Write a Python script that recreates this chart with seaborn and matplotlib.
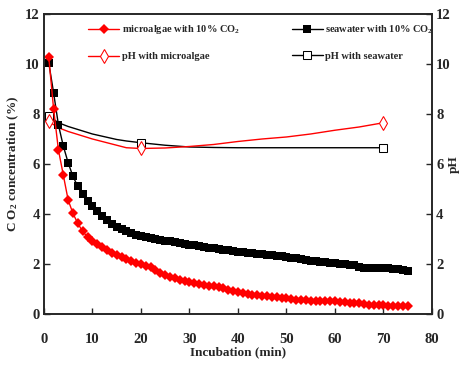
import numpy as np
import pandas as pd
import matplotlib
matplotlib.use("Agg")
import matplotlib.pyplot as plt
import seaborn as sns

sns.set_style("ticks")
plt.rcParams['font.family'] = ['Liberation Serif', 'DejaVu Serif']
plt.rcParams['font.weight'] = 'bold'
plt.rcParams['mathtext.fontset'] = 'custom'
plt.rcParams['mathtext.rm'] = 'Liberation Serif:bold'
plt.rcParams['mathtext.it'] = 'Liberation Serif:bold'
plt.rcParams['mathtext.bf'] = 'Liberation Serif:bold'

time_min = list(range(1, 76))
co2_microalgae = [10.28, 8.2, 6.56, 5.56, 4.56, 4.02, 3.62, 3.3, 3.08, 2.92,
                  2.78, 2.66, 2.55, 2.45, 2.36, 2.28, 2.2, 2.12, 2.05, 1.98,
                  1.92, 1.86, 1.75, 1.65, 1.55, 1.48, 1.42, 1.37, 1.32, 1.28,
                  1.24, 1.2, 1.16, 1.12, 1.1, 1.08, 1.02, 0.95, 0.9, 0.86,
                  0.83, 0.8, 0.76, 0.74, 0.72, 0.7, 0.68, 0.66, 0.65, 0.63,
                  0.6, 0.57, 0.55, 0.54, 0.53, 0.52, 0.51, 0.5, 0.5, 0.5,
                  0.48, 0.46, 0.45, 0.44, 0.43, 0.38, 0.36, 0.35, 0.35, 0.34,
                  0.33, 0.33, 0.32, 0.32, 0.32]
co2_seawater = [10.05, 8.85, 7.56, 6.72, 6.05, 5.5, 5.1, 4.8, 4.5, 4.3,
                4.1, 3.9, 3.75, 3.6, 3.48, 3.38, 3.3, 3.22, 3.15, 3.1,
                3.06, 3.02, 2.99, 2.96, 2.93, 2.9, 2.86, 2.83, 2.8, 2.77,
                2.74, 2.71, 2.68, 2.65, 2.62, 2.6, 2.57, 2.54, 2.51, 2.48,
                2.46, 2.44, 2.42, 2.4, 2.38, 2.36, 2.34, 2.32, 2.3, 2.28,
                2.25, 2.22, 2.19, 2.16, 2.13, 2.11, 2.09, 2.07, 2.05, 2.03,
                2.01, 1.99, 1.97, 1.94, 1.88, 1.85, 1.84, 1.84, 1.83, 1.83,
                1.82, 1.8, 1.78, 1.77, 1.72]

ph_time = [1, 3, 5, 10, 15, 17, 20, 25, 30, 35, 40, 45, 50, 55, 60, 65, 70]
ph_microalgae = [7.7, 7.45, 7.3, 7.0, 6.75, 6.65, 6.62, 6.64, 6.7, 6.78, 6.9,
                 7.0, 7.08, 7.2, 7.35, 7.48, 7.65]
ph_seawater = [7.92, 7.65, 7.5, 7.2, 6.98, 6.92, 6.85, 6.75, 6.68, 6.66, 6.65,
               6.65, 6.65, 6.65, 6.65, 6.65, 6.65]
ph_marker_idx = [0, 6, 16]

fig = plt.figure(figsize=(4.62, 3.70), dpi=100)
ax = fig.add_axes([0.095, 0.1514, 0.840, 0.8108])
ax2 = ax.twinx()

df = pd.DataFrame({"t": time_min, "micro": co2_microalgae, "sea": co2_seawater})
dph = pd.DataFrame({"t": ph_time, "micro": ph_microalgae, "sea": ph_seawater})

sns.lineplot(data=dph, x="t", y="sea", ax=ax, color="black", lw=1.0,
             marker="s", markersize=6, markerfacecolor="white", markeredgecolor="black",
             markevery=ph_marker_idx, label="pH with seawater", zorder=2)
sns.lineplot(data=dph, x="t", y="micro", ax=ax, color="red", lw=1.0,
             marker="d", markersize=7, markerfacecolor="white", markeredgecolor="red",
             markevery=ph_marker_idx, label="pH with microalgae", zorder=2)
sns.lineplot(data=df, x="t", y="sea", ax=ax, color="black", lw=1.0,
             marker="s", markersize=6, markeredgewidth=0, label="seawater with 10% CO$_2$", zorder=3)
sns.lineplot(data=df, x="t", y="micro", ax=ax, color="red", lw=1.0,
             marker="D", markersize=5, markeredgewidth=0, label="microalgae with 10% CO$_2$", zorder=4)

ax.set_xlim(0, 80)
ax.set_ylim(0, 12)
ax2.set_ylim(0, 12)
ax.set_xticks(range(0, 81, 10))
ax.set_yticks(range(0, 13, 2))
ax2.set_yticks(range(0, 13, 2))
for a in (ax, ax2):
    a.tick_params(direction="in", length=4, width=1, labelsize=10.5, pad=3)
    for s in a.spines.values():
        s.set_linewidth(1.2)
        s.set_visible(True)
ax.tick_params(axis="x", pad=14)
ax.set_xlabel("Incubation (min)", fontsize=9.5, fontweight="bold", labelpad=0)
ax.set_ylabel("C O$_2$ concentration (%)", fontsize=9.5, fontweight="bold", labelpad=3)
ax2.set_ylabel("pH", fontsize=9.5, fontweight="bold")
ax2.yaxis.set_label_coords(1.04, 0.5)

h, l = ax.get_legend_handles_labels()
order = [l.index("microalgae with 10% CO$_2$"), l.index("pH with microalgae"),
         l.index("seawater with 10% CO$_2$"), l.index("pH with seawater")]
ax.legend([h[i] for i in order], [l[i] for i in order], ncol=2, frameon=False,
          loc="upper left", bbox_to_anchor=(0.09, 1.0),
          handlelength=3.0, columnspacing=5.0, labelspacing=1.5, handletextpad=0.2,
          prop={"weight": "bold", "size": 7.5})

fig.savefig("out.png", dpi=100)
